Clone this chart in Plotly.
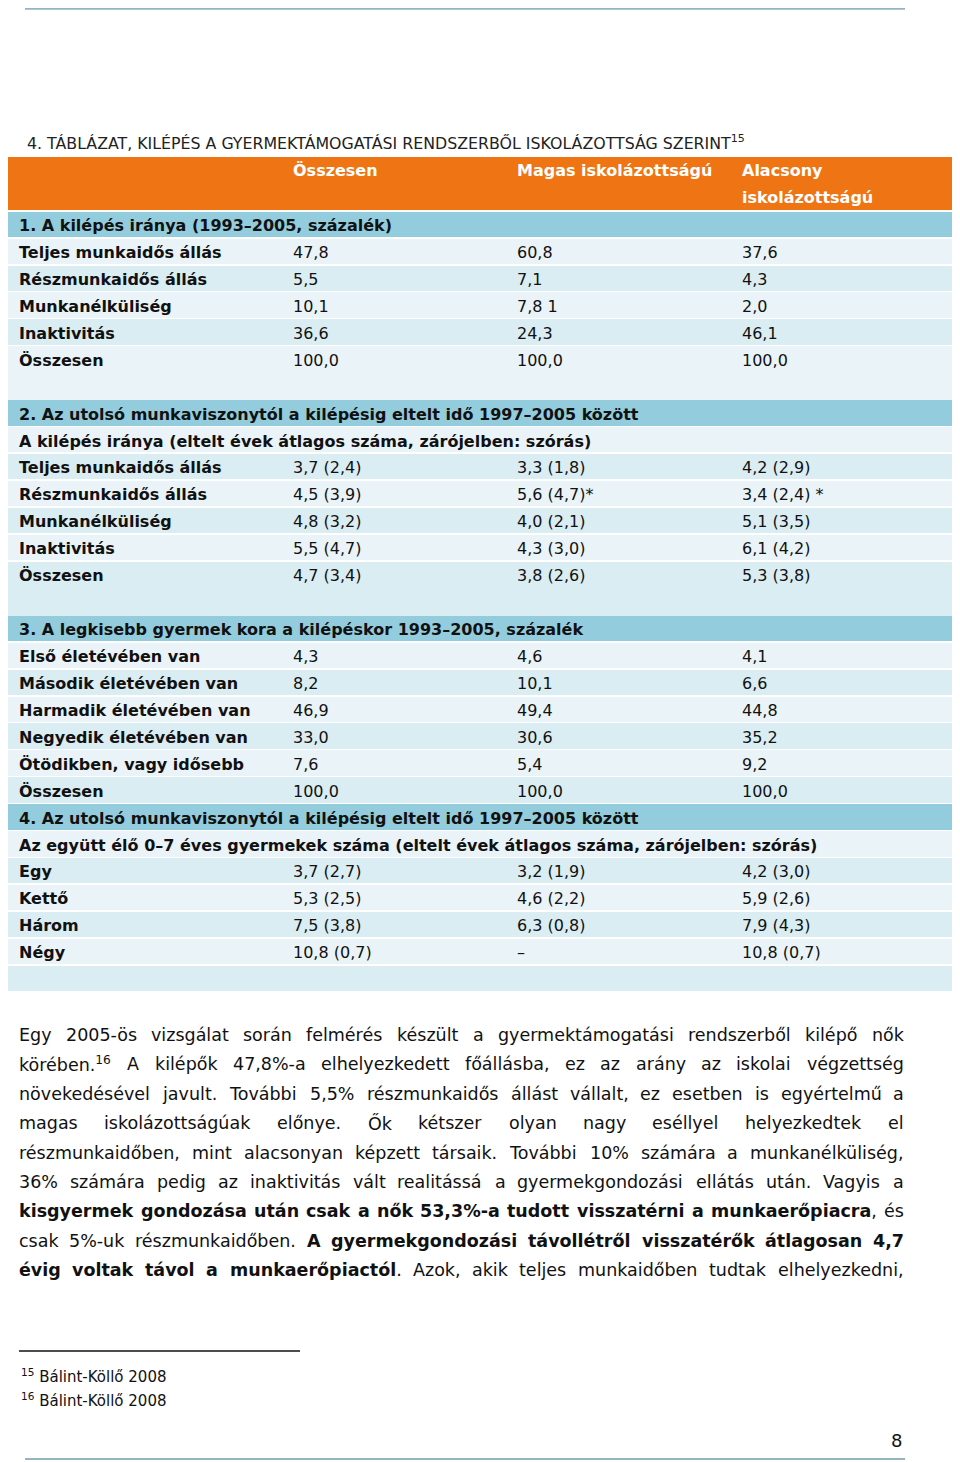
import re
import plotly.graph_objects as go

# --- adatok ---
col_heads = ["Összesen", "Magas iskolázottságú", "Alacsony", "iskolázottságú"]

sec1_title = "1. A kilépés iránya (1993–2005, százalék)"
sec1_labels = ["Teljes munkaidős állás", "Részmunkaidős állás", "Munkanélküliség", "Inaktivitás", "Összesen"]
sec1_total = ["47,8", "5,5", "10,1", "36,6", "100,0"]
sec1_high = ["60,8", "7,1", "7,8 1", "24,3", "100,0"]
sec1_low = ["37,6", "4,3", "2,0", "46,1", "100,0"]

sec2_title = "2. Az utolsó munkaviszonytól a kilépésig eltelt idő 1997–2005 között"
sec2_sub = "A kilépés iránya (eltelt évek átlagos száma, zárójelben: szórás)"
sec2_labels = ["Teljes munkaidős állás", "Részmunkaidős állás", "Munkanélküliség", "Inaktivitás", "Összesen"]
sec2_total = ["3,7 (2,4)", "4,5 (3,9)", "4,8 (3,2)", "5,5 (4,7)", "4,7 (3,4)"]
sec2_high = ["3,3 (1,8)", "5,6 (4,7)*", "4,0 (2,1)", "4,3 (3,0)", "3,8 (2,6)"]
sec2_low = ["4,2 (2,9)", "3,4 (2,4) *", "5,1 (3,5)", "6,1 (4,2)", "5,3 (3,8)"]

sec3_title = "3. A legkisebb gyermek kora a kilépéskor 1993–2005, százalék"
sec3_labels = ["Első életévében van", "Második életévében van", "Harmadik életévében van",
               "Negyedik életévében van", "Ötödikben, vagy idősebb", "Összesen"]
sec3_total = ["4,3", "8,2", "46,9", "33,0", "7,6", "100,0"]
sec3_high = ["4,6", "10,1", "49,4", "30,6", "5,4", "100,0"]
sec3_low = ["4,1", "6,6", "44,8", "35,2", "9,2", "100,0"]

sec4_title = "4. Az utolsó munkaviszonytól a kilépésig eltelt idő 1997–2005 között"
sec4_sub = "Az együtt élő 0–7 éves gyermekek száma (eltelt évek átlagos száma, zárójelben: szórás)"
sec4_labels = ["Egy", "Kettő", "Három", "Négy"]
sec4_total = ["3,7 (2,7)", "5,3 (2,5)", "7,5 (3,8)", "10,8 (0,7)"]
sec4_high = ["3,2 (1,9)", "4,6 (2,2)", "6,3 (0,8)", "–"]
sec4_low = ["4,2 (3,0)", "5,9 (2,6)", "7,9 (4,3)", "10,8 (0,7)"]

title = "4. TÁBLÁZAT, KILÉPÉS A GYERMEKTÁMOGATÁSI RENDSZERBŐL ISKOLÁZOTTSÁG SZERINT<sup>15</sup>"

para_lines = [
    "Egy 2005-ös vizsgálat során felmérés készült a gyermektámogatási rendszerből kilépő nők",
    "körében.<sup>16</sup> A kilépők 47,8%-a elhelyezkedett főállásba, ez az arány az iskolai végzettség",
    "növekedésével javult. További 5,5% részmunkaidős állást vállalt, ez esetben is egyértelmű a",
    "magas iskolázottságúak előnye. Ők kétszer olyan nagy eséllyel helyezkedtek el",
    "részmunkaidőben, mint alacsonyan képzett társaik. További 10% számára a munkanélküliség,",
    "36% számára pedig az inaktivitás vált realitássá a gyermekgondozási ellátás után. Vagyis a",
    "<b>kisgyermek gondozása után csak a nők 53,3%-a tudott visszatérni a munkaerőpiacra</b>, és",
    "csak 5%-uk részmunkaidőben. <b>A gyermekgondozási távollétről visszatérők átlagosan 4,7</b>",
    "<b>évig voltak távol a munkaerőpiactól</b>. Azok, akik teljes munkaidőben tudtak elhelyezkedni,",
]
footnotes = ["<sup>15</sup> Bálint-Köllő 2008", "<sup>16</sup> Bálint-Köllő 2008"]
page_no = "8"

ORANGE = "#ef7514"
SEC = "#93cddd"
LIGHT = "#eaf4f8"
DARK = "#daedf3"
FONT = "DejaVu Sans"

# a böngésző body margója (8px) miatt mindent eltolunk
W, H = 952, 1454
def px(s):
    return (s - 8) / W
def py(s):
    return 1 - (s - 8) / H

# sorok összerakása: (címke, össz, magas, alacsony, típus)
rows = []
def add_section(t, sub, labels, a, b, c, blank):
    rows.append((t, "", "", "", "sec"))
    if sub:
        rows.append((sub, "", "", "", "row"))
    for r in zip(labels, a, b, c):
        rows.append(r + ("row",))
    if blank:
        rows.append(("", "", "", "", blank))

add_section(sec1_title, None, sec1_labels, sec1_total, sec1_high, sec1_low, "merge")
add_section(sec2_title, sec2_sub, sec2_labels, sec2_total, sec2_high, sec2_low, "merge")
add_section(sec3_title, None, sec3_labels, sec3_total, sec3_high, sec3_low, None)
add_section(sec4_title, sec4_sub, sec4_labels, sec4_total, sec4_high, sec4_low, "row")

n = len(rows)
ys, colors, widths = [], [], []
k = 0
prev = LIGHT
for i, r in enumerate(rows):
    kind = r[4]
    ys.append(i + 0.5)
    if kind == "sec":
        colors.append(SEC); widths.append(0.94); k = 0
    elif kind == "merge":
        colors.append(prev); widths.append(1.08)
    else:
        prev = LIGHT if k % 2 == 0 else DARK
        colors.append(prev); widths.append(0.94); k += 1

TW = 948
fig = go.Figure()
# fejléc
fig.add_trace(go.Bar(orientation="h", y=[-1.02], x=[TW], base=0, width=[1.96],
                     marker=dict(color=ORANGE, line=dict(width=0)), hoverinfo="skip"))
# sorok háttere
fig.add_trace(go.Bar(orientation="h", y=ys, x=[TW] * n, base=0, width=widths,
                     marker=dict(color=colors, line=dict(width=0)), hoverinfo="skip"))

col_x = [11, 285, 509, 734]
TS = 16
DY = 0.1  # a szöveg függőleges igazítása a sávon belül
# fejléc szövegei
fig.add_trace(go.Scatter(x=[col_x[1], col_x[2], col_x[3], col_x[3]],
                         y=[-1.45, -1.45, -1.45, -0.45],
                         mode="text", text=col_heads, textposition="middle right",
                         textfont=dict(family=FONT, size=TS, color="white", weight="bold"),
                         hoverinfo="skip"))
# első oszlop
lab = [(y + DY, r[0]) for y, r in zip(ys, rows) if r[0]]
fig.add_trace(go.Scatter(x=[col_x[0]] * len(lab), y=[a for a, _ in lab], mode="text",
                         text=[b for _, b in lab], textposition="middle right",
                         textfont=dict(family=FONT, size=TS, color="#111111", weight="bold"),
                         hoverinfo="skip"))
for j in range(3):
    vals = [(y + DY, r[j + 1]) for y, r in zip(ys, rows) if r[j + 1]]
    fig.add_trace(go.Scatter(x=[col_x[j + 1]] * len(vals), y=[a for a, _ in vals], mode="text",
                             text=[b for _, b in vals], textposition="middle right",
                             textfont=dict(family=FONT, size=TS, color="#111111"),
                             hoverinfo="skip"))

fig.update_layout(
    width=W, height=H, margin=dict(l=0, r=0, t=0, b=0),
    paper_bgcolor="white", plot_bgcolor="white", showlegend=False, bargap=0,
    xaxis=dict(domain=[px(8), px(956)], range=[0, TW], visible=False, fixedrange=True),
    yaxis=dict(domain=[py(992), py(157)], range=[n, -2], visible=False, fixedrange=True),
)

# --- sorkizárt bekezdés: DejaVu Sans betűszélességek (2048 egység/em) ---
REG = dict(zip("abcdefghijklmnopqrstuvwxyz",
               [1255, 1300, 1126, 1300, 1260, 721, 1300, 1298, 569, 569, 1186, 569, 1995,
                1298, 1253, 1300, 1300, 842, 1067, 803, 1298, 1212, 1675, 1212, 1212, 1075]))
REG.update({" ": 651, ",": 651, ".": 651, "-": 739, "%": 1946, "A": 1401, "E": 1294,
            "T": 1251, "V": 1401, "O": 1612})
REG.update({d: 1303 for d in "0123456789"})
BLD = dict(zip("abcdefghijklmnopqrstuvwxyz",
               [1382, 1466, 1219, 1466, 1389, 891, 1466, 1458, 702, 702, 1362, 702, 2134,
                1458, 1407, 1466, 1466, 1011, 1219, 979, 1458, 1335, 1892, 1321, 1335, 1221]))
BLD.update({" ": 713, ",": 780, ".": 780, "-": 852, "%": 2052, "A": 1585, "E": 1399,
            "T": 1399, "V": 1585, "O": 1741})
BLD.update({d: 1425 for d in "0123456789"})
PLAIN = str.maketrans("áéíóöőúüűÖŐÁÉ", "aeiooouuuOOAE")
PS = 17.5

def text_w(s, bold):
    tab = BLD if bold else REG
    w = 0
    for part in re.split(r"(<sup>.*?</sup>)", s):
        if part.startswith("<sup>"):
            w += sum(tab.get(c, 1300) for c in part[5:-6]) * 0.7
        else:
            w += sum(tab.get(c, 1300) for c in part.translate(PLAIN))
    return w * PS / 2048

def tokens(line):
    toks, bold = [[]], False
    for piece in re.split(r"(</?b>)", line):
        if piece in ("<b>", "</b>"):
            bold = piece == "<b>"
            continue
        for j, p in enumerate(piece.split(" ")):
            if j > 0:
                toks.append([])
            if p:
                toks[-1].append((p, bold))
    return [t for t in toks if t]

ann = []
ann.append(dict(text=title, x=px(25), y=py(143), xref="paper", yref="paper",
                xanchor="left", yanchor="middle", showarrow=False,
                font=dict(family=FONT, size=15.8, color="#222222")))

LEFT, RIGHT = 19, 904
for i, line in enumerate(para_lines):
    toks = tokens(line)
    ws = [sum(text_w(p, b) for p, b in t) for t in toks]
    gap = (RIGHT - LEFT - sum(ws)) / (len(toks) - 1)
    pos = LEFT - 2
    for t, w in zip(toks, ws):
        txt = "".join(f"<b>{p}</b>" if b else p for p, b in t)
        ann.append(dict(text=txt, x=px(pos), y=py(1035 + i * 29.4), xref="paper", yref="paper",
                        xanchor="left", yanchor="middle", showarrow=False,
                        font=dict(family=FONT, size=PS, color="#111111")))
        pos += w + gap

for i, fn in enumerate(footnotes):
    ann.append(dict(text=fn, x=px(19), y=py(1376 + i * 24), xref="paper", yref="paper",
                    xanchor="left", yanchor="middle", showarrow=False,
                    font=dict(family=FONT, size=15, color="#111111")))
ann.append(dict(text=page_no, x=px(904), y=py(1440), xref="paper", yref="paper",
                xanchor="right", yanchor="middle", showarrow=False,
                font=dict(family=FONT, size=18, color="#111111")))
fig.update_layout(annotations=ann)

line_col = "#93b4c1"
fig.update_layout(shapes=[
    dict(type="line", xref="paper", yref="paper", x0=px(25), x1=px(905), y0=0.9995, y1=0.9995,
         line=dict(color=line_col, width=2)),
    dict(type="line", xref="paper", yref="paper", x0=px(25), x1=px(905), y0=py(1459), y1=py(1459),
         line=dict(color=line_col, width=2)),
    dict(type="line", xref="paper", yref="paper", x0=px(19), x1=px(300), y0=py(1351), y1=py(1351),
         line=dict(color="#111111", width=1.5)),
])

fig.write_html("out.html")
